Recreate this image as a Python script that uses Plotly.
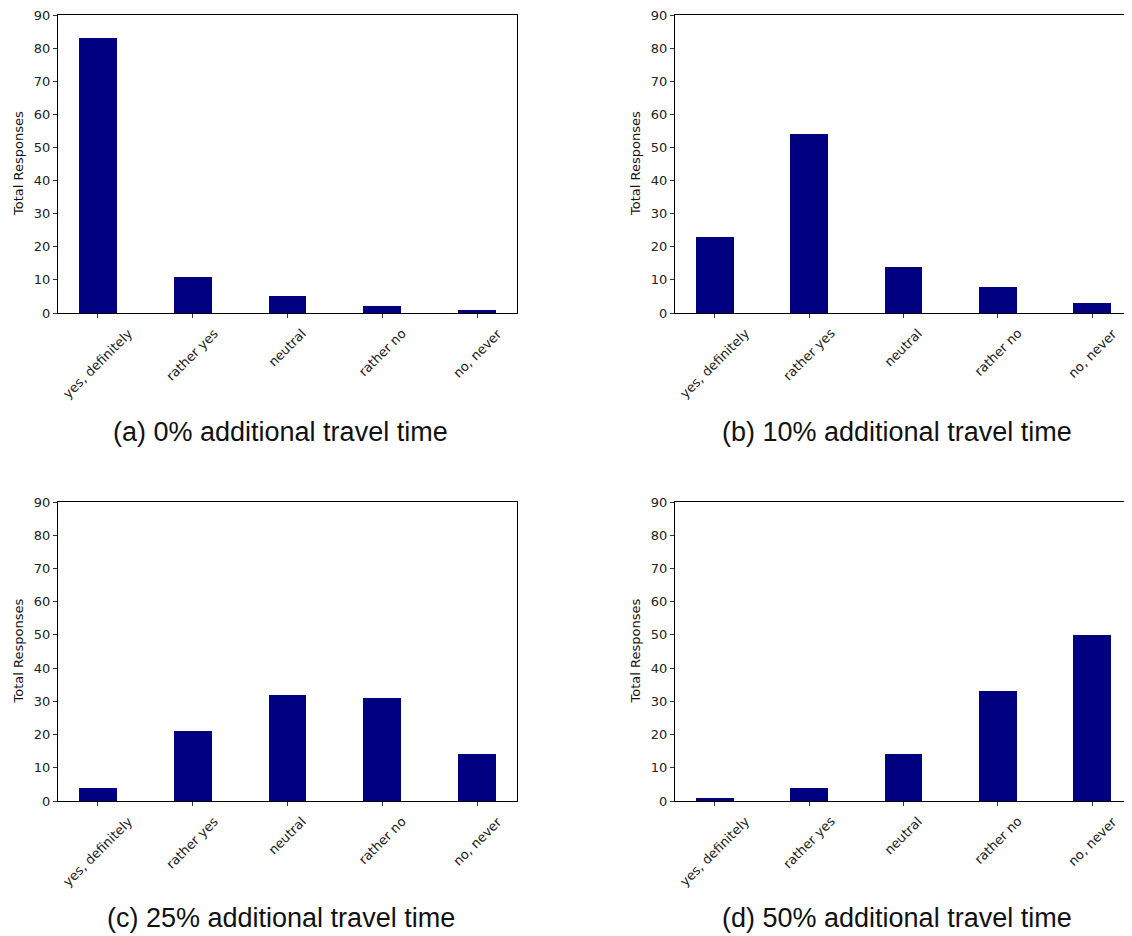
import plotly.graph_objects as go

categories = ["yes, definitely", "rather yes", "neutral", "rather no", "no, never"]
vals_a = [83, 11, 5, 2, 1]
vals_b = [23, 54, 14, 8, 3]
vals_c = [4, 21, 32, 31, 14]
vals_d = [1, 4, 14, 33, 50]
titles = ["(a) 0% additional travel time", "(b) 10% additional travel time",
          "(c) 25% additional travel time", "(d) 50% additional travel time"]
yticks = [0, 10, 20, 30, 40, 50, 60, 70, 80, 90]

OFF = 8  # page body margin
W, H = 1132 - OFF, 936 - OFF
# pixel boxes in page coordinates: (left, right, top, bottom)
boxes = [(58, 517, 15, 313), (675, 1132, 15, 313),
         (58, 517, 502, 801), (675, 1132, 502, 801)]
title_pos = [(280, 432), (897, 432), (281, 918), (897, 918)]
ylabel_x = [18, 635, 18, 635]


def px(x):
    return (x - OFF) / W


def py(y):
    return 1 - (y - OFF) / H


fig = go.Figure()
series = [vals_a, vals_b, vals_c, vals_d]
layout = {}
annotations = []
for i, (vals, box) in enumerate(zip(series, boxes)):
    n = i + 1
    xa = "x" if n == 1 else f"x{n}"
    ya = "y" if n == 1 else f"y{n}"
    fig.add_trace(go.Bar(x=list(range(len(categories))), y=vals, width=0.4,
                         marker=dict(color="#000080", line=dict(width=0)),
                         xaxis=xa, yaxis=ya, showlegend=False))
    l, r, t, b = box
    common = dict(showline=True, linecolor="black", linewidth=1, mirror=True,
                  ticks="outside", ticklen=4, tickwidth=1, tickcolor="#333",
                  showgrid=False, zeroline=False, automargin=False,
                  ticklabeloverflow="allow",
                  tickfont=dict(family="DejaVu Sans", size=13, color="#222"))
    layout["xaxis" if n == 1 else f"xaxis{n}"] = dict(
        common, domain=[px(l), min(px(r), 1.0)], anchor=ya,
        range=[-0.42, 4.42], tickmode="array",
        tickvals=list(range(len(categories))), showticklabels=False,
        fixedrange=True)
    layout["yaxis" if n == 1 else f"yaxis{n}"] = dict(
        common, domain=[py(b), py(t)], anchor=xa,
        range=[0, 90], tickmode="array", tickvals=yticks, fixedrange=True)
    # rotated category labels centred on each tick (matplotlib style)
    for k, cat in enumerate(categories):
        annotations.append(dict(text=cat, x=k, xref=xa, y=py(b + 10), yref="paper",
                                showarrow=False, textangle=-45,
                                xanchor="center", yanchor="top",
                                font=dict(family="DejaVu Sans", size=13, color="#222")))

for (tx, ty), txt in zip(title_pos, titles):
    annotations.append(dict(text=txt, x=px(tx), y=py(ty), xref="paper", yref="paper",
                            showarrow=False, xanchor="center", yanchor="middle",
                            font=dict(family="Liberation Sans", size=27, color="#111")))
for i, box in enumerate(boxes):
    l, r, t, b = box
    annotations.append(dict(text="Total Responses", x=px(ylabel_x[i]), y=py((t + b) / 2),
                            xref="paper", yref="paper", showarrow=False, textangle=-90,
                            xanchor="center", yanchor="middle",
                            font=dict(family="DejaVu Sans", size=13, color="#111")))

fig.update_layout(width=W, height=H, margin=dict(l=0, r=0, t=0, b=0),
                  paper_bgcolor="white", plot_bgcolor="white",
                  annotations=annotations, bargap=0, **layout)
fig.write_html("out.html", config={"displayModeBar": False})
